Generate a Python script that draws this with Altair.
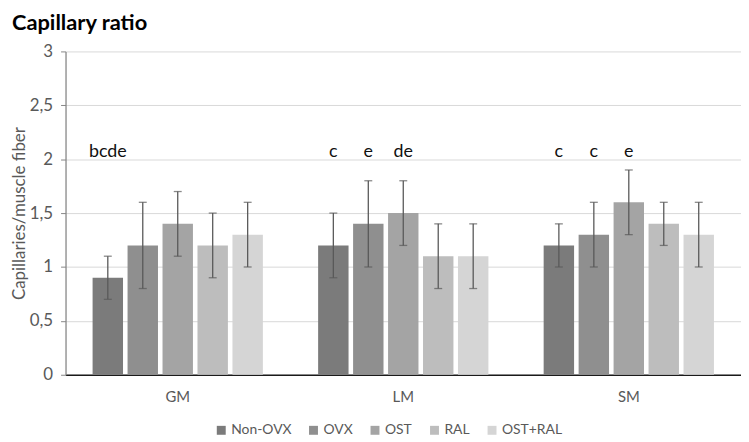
import altair as alt
import pandas as pd

muscles = ["GM", "LM", "SM"]
treatments = ["Non-OVX", "OVX", "OST", "RAL", "OST+RAL"]
colors = ["#7b7b7b", "#8f8f8f", "#a4a4a4", "#bdbdbd", "#d5d5d5"]

means = {
    "GM": [0.9, 1.2, 1.4, 1.2, 1.3],
    "LM": [1.2, 1.4, 1.5, 1.1, 1.1],
    "SM": [1.2, 1.3, 1.6, 1.4, 1.3],
}
errors = {
    "GM": [0.2, 0.4, 0.3, 0.3, 0.3],
    "LM": [0.3, 0.4, 0.3, 0.3, 0.3],
    "SM": [0.2, 0.3, 0.3, 0.2, 0.3],
}
letters = {
    "GM": ["bcde", "", "", "", ""],
    "LM": ["c", "e", "de", "", ""],
    "SM": ["c", "c", "e", "", ""],
}
letter_level = 2.0
chart_title = "Capillary ratio"

rows = []
for m in muscles:
    for i, t in enumerate(treatments):
        rows.append({
            "muscle": m,
            "treatment": t,
            "mean": means[m][i],
            "lo": round(means[m][i] - errors[m][i], 2),
            "hi": round(means[m][i] + errors[m][i], 2),
            "letter": letters[m][i],
            "level": letter_level,
        })
df = pd.DataFrame(rows)

FONT = "Lato"
GREY = "#595959"

x = alt.X("muscle:N", sort=muscles,
          scale=alt.Scale(paddingInner=0.245, paddingOuter=0.12),
          axis=alt.Axis(title=None, labelAngle=0, ticks=False, domainColor="#1a1a1a",
                        domainWidth=1.3, labelFont=FONT, labelFontSize=15,
                        labelColor=GREY, labelPadding=15, grid=False))
xo = alt.XOffset("treatment:N", sort=treatments,
                 scale=alt.Scale(paddingInner=0.13, paddingOuter=0))

base = alt.Chart(df)

bars = base.mark_bar().encode(
    x=x,
    xOffset=xo,
    y=alt.Y("mean:Q", scale=alt.Scale(domain=[0, 3]),
            axis=alt.Axis(values=[0, 0.5, 1, 1.5, 2, 2.5, 3],
                          labelExpr="replace(format(datum.value, '.2~f'), '.', ',')",
                          title="Capillaries/muscle fiber", titleFont=FONT,
                          titleFontSize=17, titleFontWeight="normal", titleColor=GREY,
                          titleX=-41, titleY=163, titleBaseline="alphabetic",
                          labelFont=FONT, labelFontSize=17, labelColor=GREY,
                          labelPadding=8, tickSize=5, tickColor="#868686",
                          domainColor="#868686", domainWidth=1.3,
                          gridColor="#d9d9d9", gridWidth=1)),
    color=alt.Color("treatment:N", sort=treatments,
                    scale=alt.Scale(domain=treatments, range=colors),
                    legend=alt.Legend(title=None, orient="none", legendX=150, legendY=375,
                                      direction="horizontal", symbolType="square",
                                      symbolSize=81, symbolStrokeWidth=0,
                                      labelFont=FONT, labelFontSize=14, labelColor=GREY,
                                      labelOffset=3, columnPadding=15)),
)

rules = base.mark_rule(color=GREY, strokeWidth=1.3).encode(
    x=x, xOffset=xo, y="lo:Q", y2="hi:Q")
caps_lo = base.mark_tick(color=GREY, thickness=1.3, size=8).encode(
    x=x, xOffset=xo, y="lo:Q")
caps_hi = base.mark_tick(color=GREY, thickness=1.3, size=8).encode(
    x=x, xOffset=xo, y="hi:Q")
texts = base.mark_text(font=FONT, fontSize=18, color="#111111",
                       baseline="alphabetic", dy=-2).encode(
    x=x, xOffset=xo, y="level:Q", text="letter:N")

title_mark = alt.Chart(pd.DataFrame({"t": [chart_title]})).mark_text(
    font=FONT, fontSize=22, fontWeight="bold", color="#000000",
    align="left", baseline="top").encode(
    x=alt.value(-54), y=alt.value(-39), text="t:N")

chart = alt.layer(bars, rules, caps_lo, caps_hi, texts, title_mark).properties(
    width=681, height=326,
    autosize=alt.AutoSizeParams(type="none"),
    padding={"left": 58, "top": 42, "right": 0, "bottom": 64},
).configure_view(stroke=None)

chart.save("out.html", embed_options={"renderer": "svg", "actions": False})
